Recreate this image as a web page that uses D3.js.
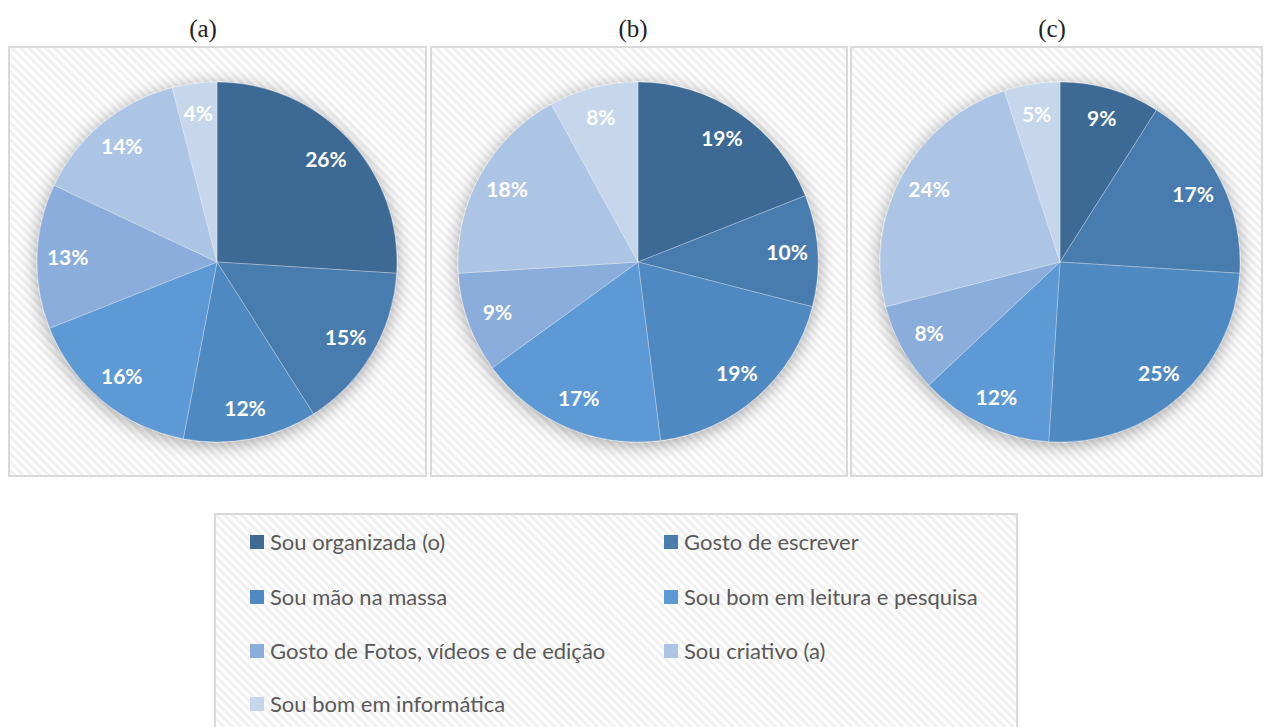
<!DOCTYPE html>
<html>
<head>
<meta charset="utf-8">
<script src="https://cdn.jsdelivr.net/npm/d3@7"></script>
<style>
body { margin: 0; background: #fff; }
</style>
</head>
<body>
<script>
var w = 1266;
var h = 727;

// categories, shared by all three pies
var categories = [
    "Sou organizada (o)",
    "Gosto de escrever",
    "Sou mão na massa",
    "Sou bom em leitura e pesquisa",
    "Gosto de Fotos, vídeos e de edição",
    "Sou criativo (a)",
    "Sou bom em informática"
];
var colors = ["#3e6a94", "#4a7cae", "#4f89c1", "#5b99d5", "#8aaddb", "#adc5e4", "#c6d6eb"];

// percentages per panel
var valuesA = [26, 15, 12, 16, 13, 14, 4];
var valuesB = [19, 10, 19, 17, 9, 18, 8];
var valuesC = [9, 17, 25, 12, 8, 24, 5];
var titles = ["(a)", "(b)", "(c)"];

var panels = [
    { title: titles[0], values: valuesA, x: 9, w: 417, cx: 217, titleX: 203 },
    { title: titles[1], values: valuesB, x: 431, w: 416, cx: 638, titleX: 633 },
    { title: titles[2], values: valuesC, x: 851, w: 411, cx: 1060, titleX: 1052 }
];
var panelTop = 47, panelH = 429;
var radius = 180;

var svg = d3.select("body")
    .append("svg")
    .attr("width", w)
    .attr("height", h);

var defs = svg.append("defs");

// diagonal hatch background
var pat = defs.append("pattern")
    .attr("id", "hatch")
    .attr("patternUnits", "userSpaceOnUse")
    .attr("width", 6)
    .attr("height", 6)
    .attr("patternTransform", "rotate(45)");
pat.append("rect").attr("width", 6).attr("height", 6).attr("fill", "#fff");
pat.append("rect").attr("width", 6).attr("height", 3).attr("fill", "#f0f0f0");

var shadow = defs.append("filter")
    .attr("id", "shadow")
    .attr("x", "-30%").attr("y", "-30%")
    .attr("width", "160%").attr("height", "160%");
shadow.append("feDropShadow")
    .attr("dx", 0).attr("dy", 3)
    .attr("stdDeviation", 9)
    .attr("flood-color", "#000")
    .attr("flood-opacity", 0.35);

var pie = d3.pie().sort(null).value(function(d) { return d; });
var arc = d3.arc().innerRadius(0).outerRadius(radius);
var labelArc = d3.arc().innerRadius(radius * 0.83).outerRadius(radius * 0.83);

panels.forEach(function(p) {
    svg.append("rect")
        .attr("x", p.x)
        .attr("y", panelTop)
        .attr("width", p.w)
        .attr("height", panelH)
        .attr("fill", "url(#hatch)")
        .attr("stroke", "#d9d9d9")
        .attr("stroke-width", 2);

    svg.append("text")
        .attr("x", p.titleX)
        .attr("y", 37)
        .attr("text-anchor", "middle")
        .style("font-family", "'Liberation Serif', 'DejaVu Serif', serif")
        .style("font-size", "25px")
        .attr("fill", "#222")
        .text(p.title);

    var g = svg.append("g")
        .attr("transform", "translate(" + p.cx + "," + 262 + ")");

    var arcs = pie(p.values);

    g.append("g")
        .attr("filter", "url(#shadow)")
        .selectAll("path")
        .data(arcs)
        .enter()
        .append("path")
        .attr("d", arc)
        .attr("fill", function(d, i) { return colors[i]; })
        .attr("stroke", "rgba(255,255,255,0.35)")
        .attr("stroke-width", 0.8);

    g.selectAll("text.lbl")
        .data(arcs)
        .enter()
        .append("text")
        .attr("class", "lbl")
        .attr("transform", function(d) { return "translate(" + labelArc.centroid(d) + ")"; })
        .attr("text-anchor", "middle")
        .attr("dy", "0.35em")
        .style("font-family", "Lato, 'Open Sans', sans-serif")
        .style("font-weight", "bold")
        .style("font-size", "21px")
        .attr("fill", "#fff")
        .text(function(d) { return d.data + "%"; });
});

// legend
var legend = svg.append("g");
legend.append("rect")
    .attr("x", 215)
    .attr("y", 514)
    .attr("width", 802)
    .attr("height", 230)
    .attr("fill", "url(#hatch)")
    .attr("stroke", "#d9d9d9")
    .attr("stroke-width", 2);

var colX = [250, 664];
var rowY = [542, 597, 651, 704];

var items = legend.selectAll("g.item")
    .data(categories)
    .enter()
    .append("g")
    .attr("class", "item")
    .attr("transform", function(d, i) {
        return "translate(" + colX[i % 2] + "," + rowY[Math.floor(i / 2)] + ")";
    });

items.append("rect")
    .attr("x", 0)
    .attr("y", -7)
    .attr("width", 14)
    .attr("height", 14)
    .attr("fill", function(d, i) { return colors[i]; });

items.append("text")
    .attr("x", 20)
    .attr("dy", "0.35em")
    .style("font-family", "Lato, 'Open Sans', sans-serif")
    .style("font-size", "22px")
    .attr("fill", "#595959")
    .text(function(d) { return d; });
</script>
</body>
</html>
